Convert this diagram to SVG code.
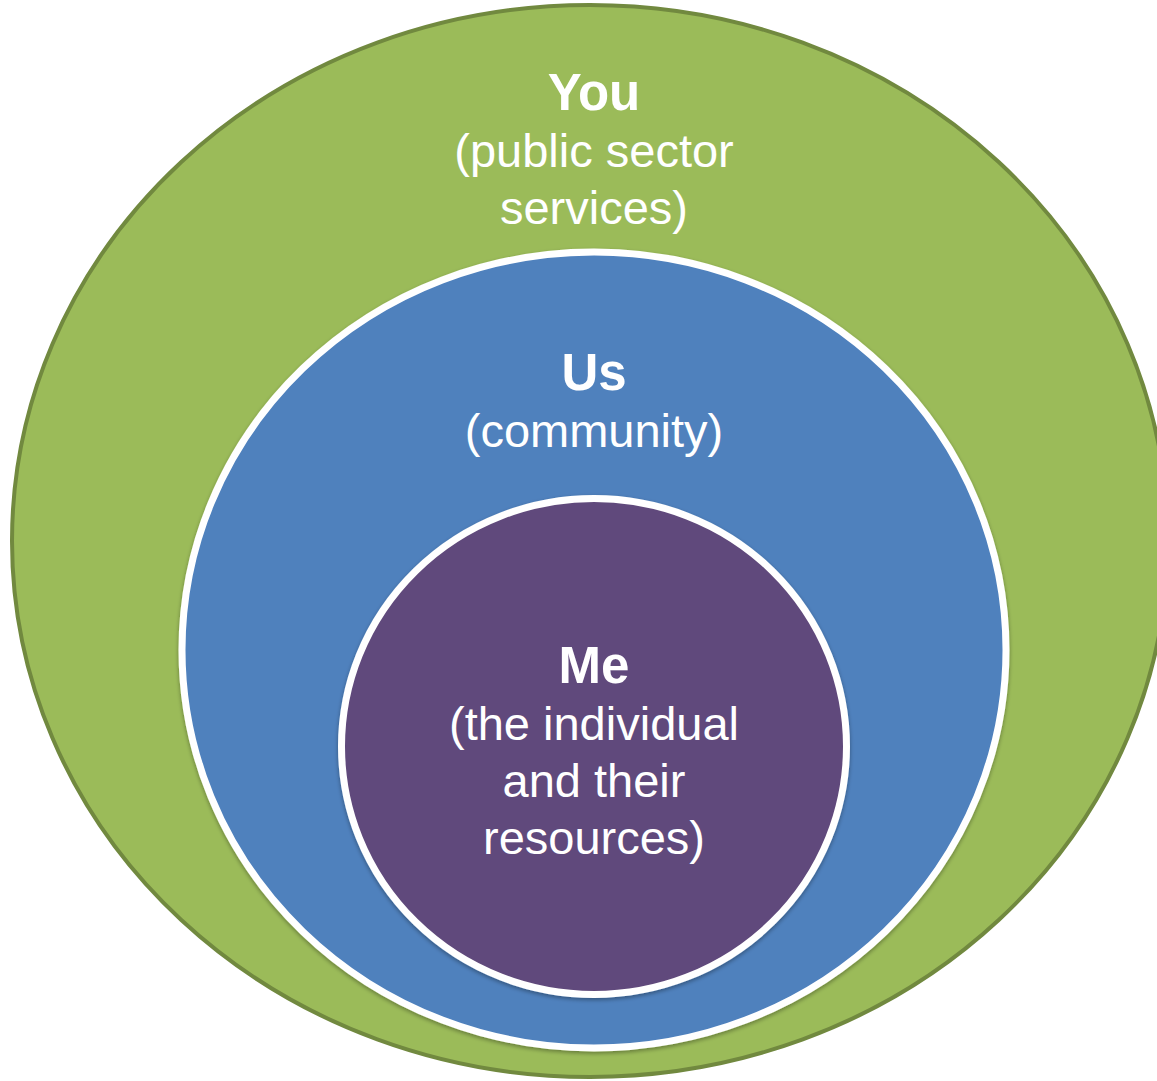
<svg xmlns="http://www.w3.org/2000/svg" width="1157" height="1081" viewBox="0 0 1157 1081">
  <style>
    .bold { font-family: "Liberation Sans", Arial, sans-serif; font-weight: bold; font-size: 51px; fill: #ffffff; text-anchor: middle; }
    .reg { font-family: "Liberation Sans", Arial, sans-serif; font-size: 47px; fill: #ffffff; text-anchor: middle; }
  </style>
  <defs>
    <filter id="shadow" x="-5%" y="-5%" width="110%" height="112%">
      <feGaussianBlur in="SourceAlpha" stdDeviation="2"/>
      <feOffset dx="0" dy="2" result="b"/>
      <feComponentTransfer><feFuncA type="linear" slope="0.35"/></feComponentTransfer>
      <feMerge><feMergeNode/><feMergeNode in="SourceGraphic"/></feMerge>
    </filter>
  </defs>
  <rect width="1157" height="1081" fill="#ffffff"/>
  <g id="you">
    <ellipse cx="590" cy="541" rx="578" ry="536" fill="#9BBB59" stroke="#71893F" stroke-width="4"/>
    <text class="bold" x="594" y="110">You</text>
    <text class="reg" x="594" y="167">(public sector</text>
    <text class="reg" x="594" y="224">services)</text>
  </g>
  <g id="us">
    <ellipse cx="594" cy="650" rx="412" ry="398" fill="#4F81BD" stroke="#ffffff" stroke-width="7" filter="url(#shadow)"/>
    <text class="bold" x="594" y="390">Us</text>
    <text class="reg" x="594" y="447">(community)</text>
  </g>
  <g id="me">
    <ellipse cx="594" cy="746.5" rx="252.5" ry="248" fill="#604A7B" stroke="#ffffff" stroke-width="7" filter="url(#shadow)"/>
    <text class="bold" x="594" y="683">Me</text>
    <text class="reg" x="594" y="740">(the individual</text>
    <text class="reg" x="594" y="797">and their</text>
    <text class="reg" x="594" y="854">resources)</text>
  </g>
  <g id="connectors"/>
</svg>
